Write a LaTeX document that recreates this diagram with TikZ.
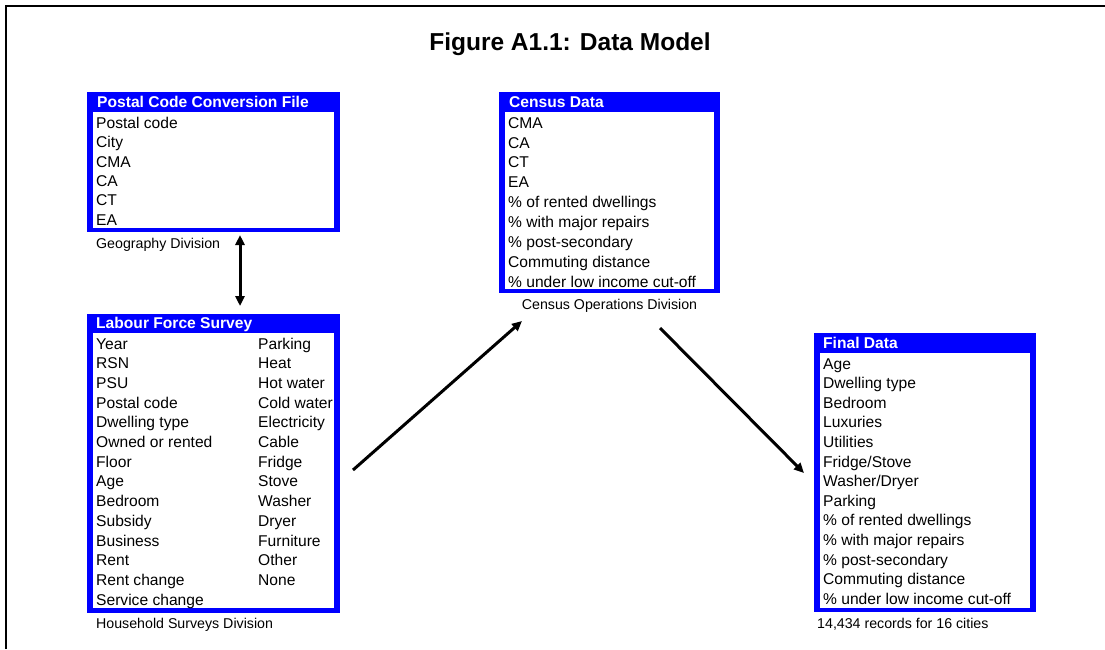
\documentclass[tikz,border=0pt]{standalone}
\usepackage{fontspec}
\setmainfont{Liberation Sans}
\usetikzlibrary{arrows.meta}
\definecolor{boxblue}{RGB}{0,0,255}
\tikzset{
  item/.style={inner sep=0pt, anchor=base west, font=\fontsize{15.6}{18}\selectfont},
  head/.style={inner sep=0pt, anchor=base west, text=white, font=\fontsize{15.6}{18}\selectfont\bfseries},
  lab/.style={inner sep=0pt, anchor=base west, font=\fontsize{14.2}{17}\selectfont},
  outerbox/.style={fill=boxblue, draw=none, inner sep=0pt, anchor=north west},
  conn/.style={line width=3pt, -{Triangle[length=10pt,width=9pt]}},
  dconn/.style={line width=3pt, {Triangle[length=10pt,width=9pt]}-{Triangle[length=10pt,width=9pt]}}
}
\begin{document}
\begin{tikzpicture}[x=1pt,y=-1pt]
\useasboundingbox (0,0) rectangle (1105,649);
\fill[white] (0,0) rectangle (1105,649);
% frame
\draw[line width=2.5pt] (6,649) -- (6,6) -- (1105,6);
% title
\node[inner sep=0pt, anchor=base, font=\fontsize{24.5}{28}\selectfont\bfseries] (title) at (570,50.7) {Figure A1.1: Data Model};

% Postal Code Conversion File
\node[outerbox, minimum width=253pt, minimum height=140pt] (postal) at (87,92) {};
\fill[white] (93,112) rectangle (334,228);
\node[head] (ph) at (97,107.3) {Postal Code Conversion File};
\foreach \t [count=\i from 0] in {Postal code, City, CMA, CA, CT, EA}
  \node[item] (p\i) at (96,128.3+19.35*\i) {\t};
\node[lab] (plab) at (96,248.3) {Geography Division};

% Census Data
\node[outerbox, minimum width=221pt, minimum height=201pt] (census) at (499,92) {};
\fill[white] (505,112) rectangle (714,289);
\node[head] (ch) at (509,107.7) {Census Data};
\foreach \t [count=\i from 0] in {CMA, CA, CT, EA, \% of rented dwellings, \% with major repairs, \% post-secondary, Commuting distance, \% under low income cut-off}
  \node[item] (c\i) at (508,128.3+19.84*\i) {\t};
\node[lab, anchor=base] (clab) at (609.5,309) {Census Operations Division};

% Labour Force Survey
\node[outerbox, minimum width=253pt, minimum height=299pt] (labour) at (87,314) {};
\fill[white] (93,333) rectangle (334,608);
\node[head] (lh) at (96,328.3) {Labour Force Survey};
\foreach \t [count=\i from 0] in {Year, RSN, PSU, Postal code, Dwelling type, Owned or rented, Floor, Age, Bedroom, Subsidy, Business, Rent, Rent change, Service change}
  \node[item] (la\i) at (96,349+19.7*\i) {\t};
\foreach \t [count=\i from 0] in {Parking, Heat, Hot water, Cold water, Electricity, Cable, Fridge, Stove, Washer, Dryer, Furniture, Other, None}
  \node[item] (lb\i) at (258,349+19.7*\i) {\t};
\node[lab] (llab) at (96,628) {Household Surveys Division};

% Final Data
\node[outerbox, minimum width=222pt, minimum height=279pt] (final) at (814,333) {};
\fill[white] (820,353) rectangle (1030,608);
\node[head] (fh) at (823,348.3) {Final Data};
\foreach \t [count=\i from 0] in {Age, Dwelling type, Bedroom, Luxuries, Utilities, Fridge/Stove, Washer/Dryer, Parking, \% of rented dwellings, \% with major repairs, \% post-secondary, Commuting distance, \% under low income cut-off}
  \node[item] (f\i) at (823,369+19.6*\i) {\t};
\node[lab] (flab) at (817,628) {14,434 records for 16 cities};

% connectors
\coordinate (v1) at (240,235);
\coordinate (v2) at (240,306);
\draw[dconn] (v1) -- (v2);
\coordinate (a1) at (353,470);
\coordinate (a2) at (522,321);
\draw[conn] (a1) -- (a2);
\coordinate (b1) at (660,328);
\coordinate (b2) at (804,473);
\draw[conn] (b1) -- (b2);
\end{tikzpicture}
\end{document}
